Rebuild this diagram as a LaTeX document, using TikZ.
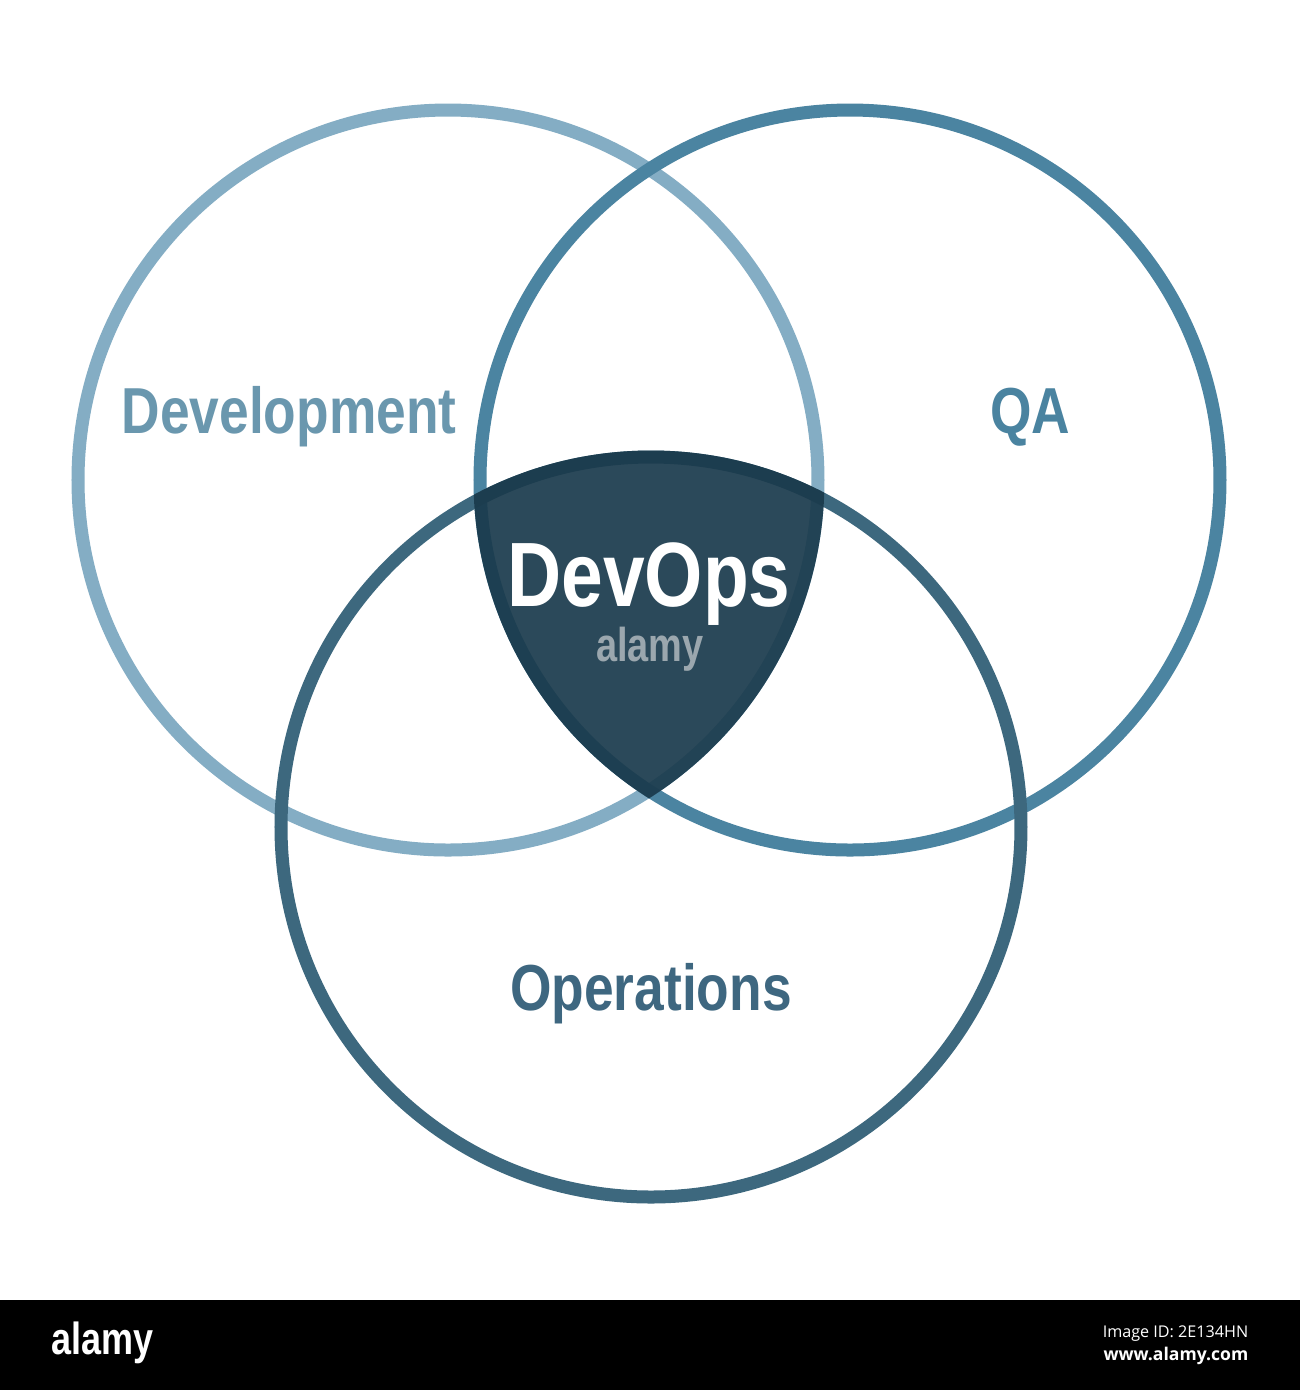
\documentclass[tikz,border=0pt]{standalone}
\usepackage{fontspec}
\newfontfamily\labelfont[FakeStretch=0.82]{Liberation Sans}
\newfontfamily\markfont[FakeStretch=0.8]{Liberation Sans}
\newfontfamily\bandfont{Open Sans}
\definecolor{devcol}{RGB}{132,173,196}
\definecolor{qacol}{RGB}{75,132,161}
\definecolor{opscol}{RGB}{61,104,126}
\definecolor{devopscol}{RGB}{26,58,76}
\definecolor{devtext}{RGB}{106,151,174}
\definecolor{qatext}{RGB}{74,131,160}
\definecolor{opstext}{RGB}{62,103,128}
\definecolor{markgray}{RGB}{155,167,174}
\tikzset{
  ring/.style={line width=3.7pt},
  setname/.style={font=\labelfont\bfseries\fontsize{18.5}{20}\selectfont, anchor=base},
}
\begin{document}
\begin{tikzpicture}
    \useasboundingbox[fill=white] (0, 0) rectangle (13, -13.9);

    \coordinate (dev) at (4.48, -4.80);
    \coordinate (qa)  at (8.50, -4.80);
    \coordinate (ops) at (6.51, -8.27);

    % the three sets
    \foreach \c/\col in {dev/devcol, qa/qacol, ops/opscol}
        \draw[ring, \col] (\c) circle (3.7);

    % common part
    \begin{scope}
        \clip (dev) circle (3.765);
        \clip (qa) circle (3.765);
        \fill[devopscol, opacity=0.92] (ops) circle (3.765);
    \end{scope}

    \node[setname, devtext] (devlabel) at (2.89, -4.33) {Development};
    \node[setname, qatext]  (qalabel)  at (10.30, -4.33) {QA};
    \node[setname, opstext] (opslabel) at (6.51, -10.10) {Operations};
    \node[setname, white, font=\labelfont\bfseries\fontsize{26}{28}\selectfont] (devops) at (6.49, -6.06) {DevOps};
    \node[anchor=base, markgray, font=\markfont\bfseries\fontsize{13.5}{14}\selectfont] (mark) at (6.50, -6.61) {alamy};

    % bottom band
    \fill[black] (0, -13.0) rectangle (13, -13.9);
    \node[anchor=base west, white, inner sep=0pt, font=\markfont\bfseries\fontsize{12.8}{13}\selectfont] (bandmark) at (0.51, -13.54) {alamy};
    \node[anchor=base east, white, inner sep=0pt, font=\bandfont\fontsize{4.6}{5}\selectfont] (imageid) at (12.49, -13.37) {Image ID: 2E134HN};
    \node[anchor=base east, white, inner sep=0pt, font=\bandfont\bfseries\fontsize{5}{6}\selectfont] (site) at (12.49, -13.60) {www.alamy.com};
\end{tikzpicture}
\end{document}
